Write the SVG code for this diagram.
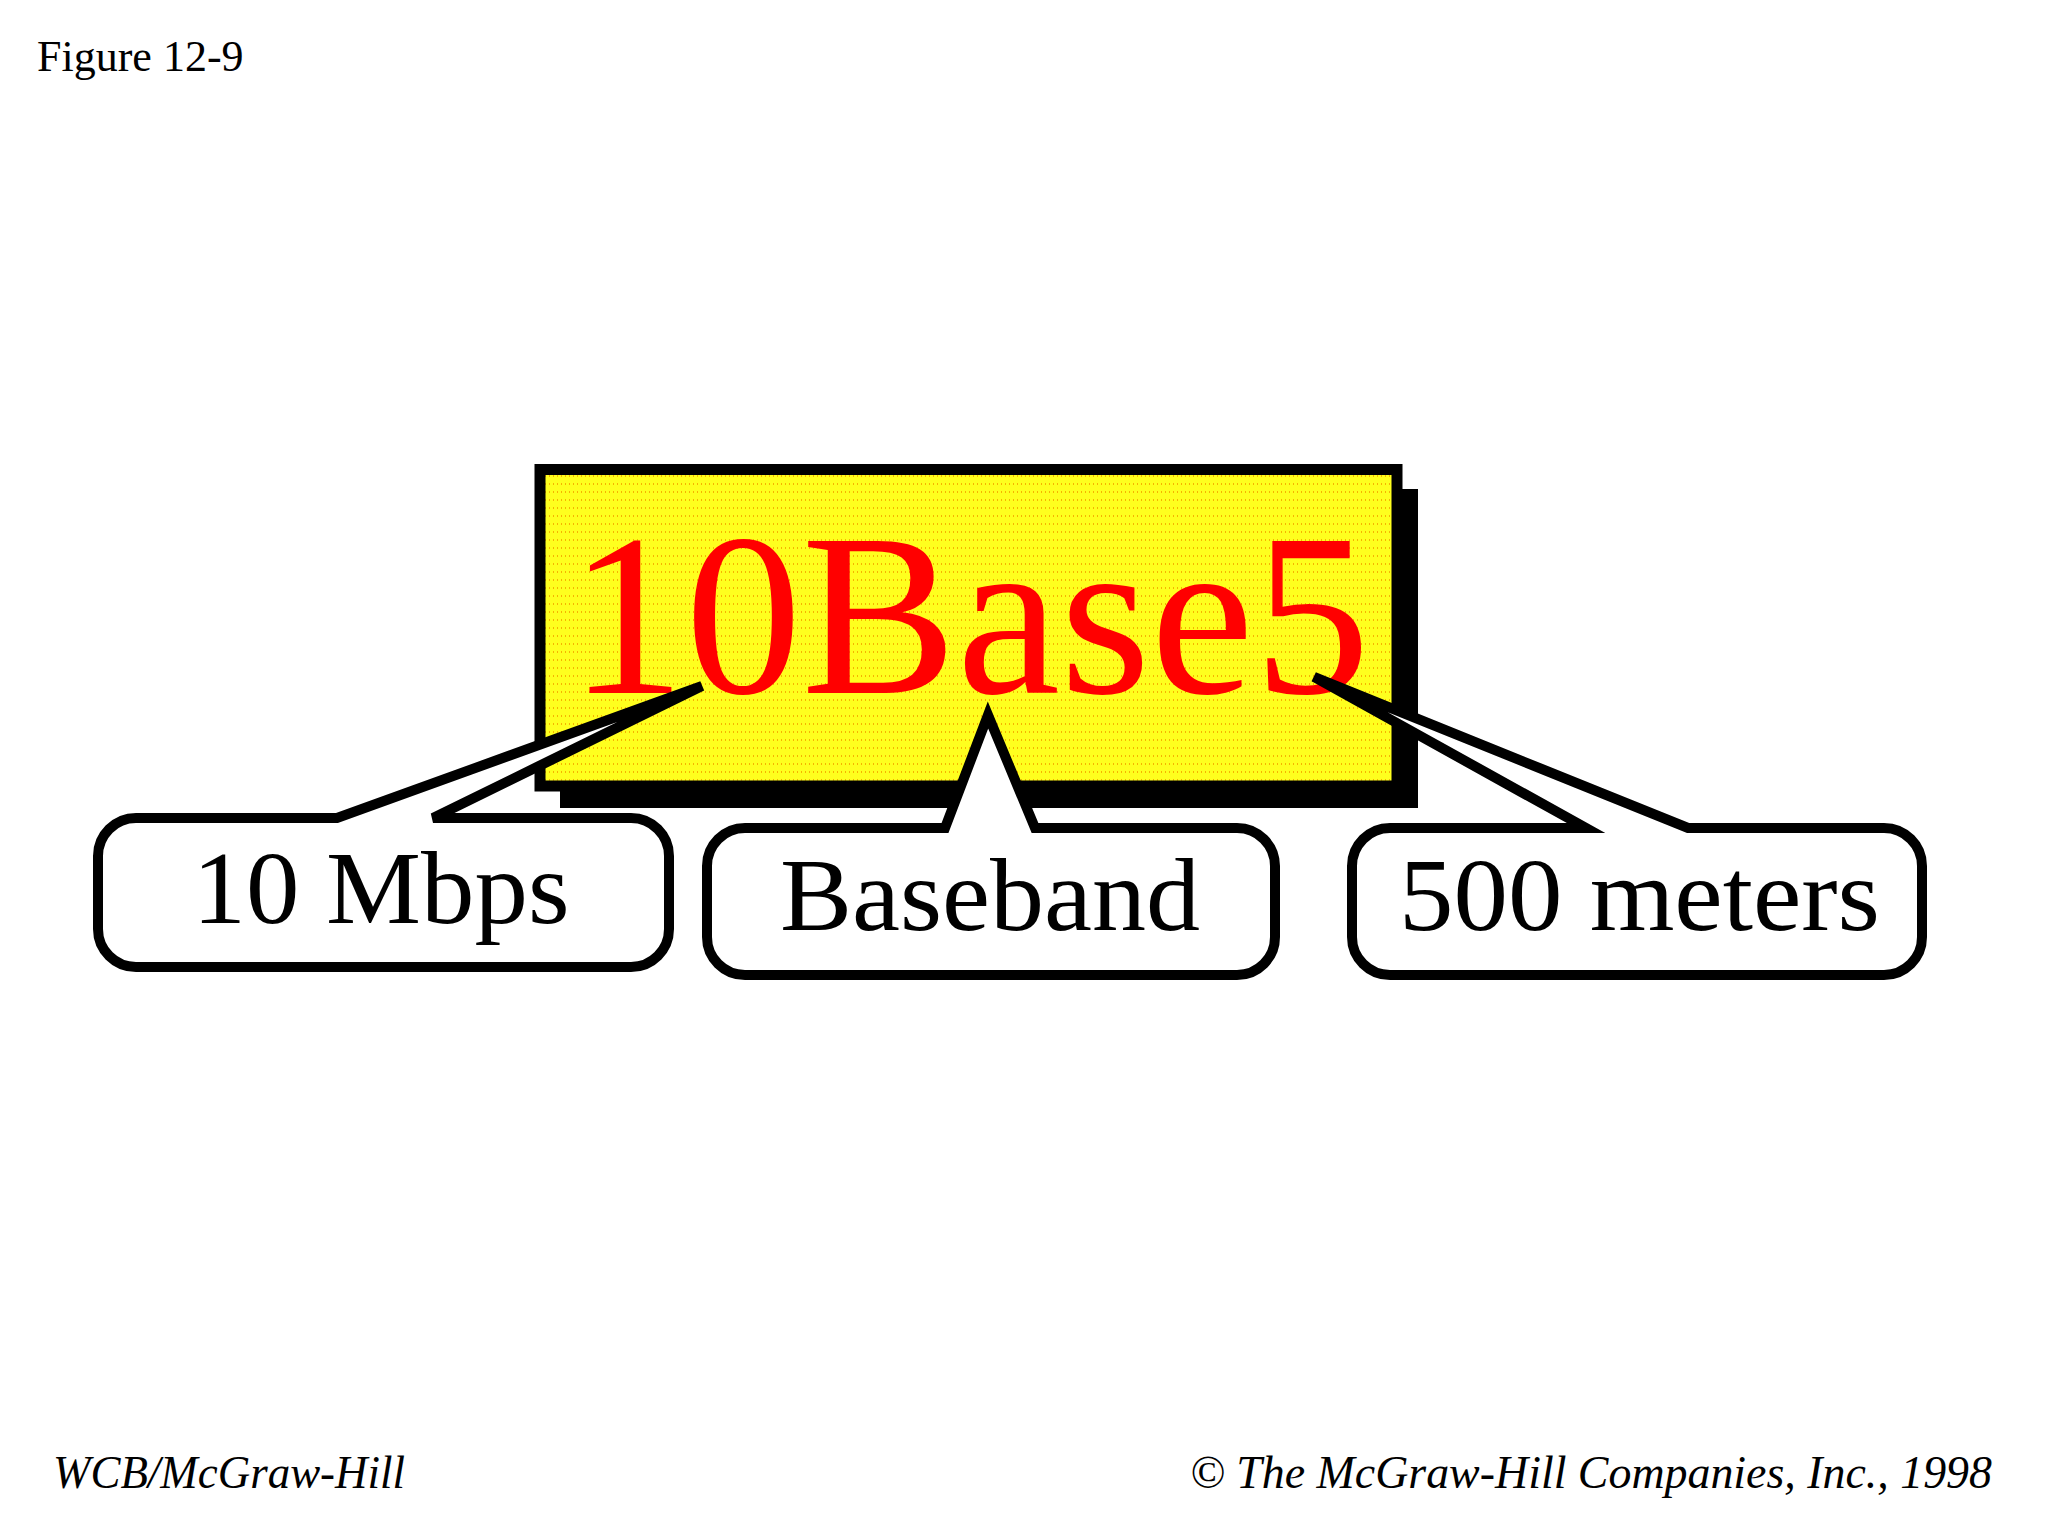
<svg xmlns="http://www.w3.org/2000/svg" width="2048" height="1536" viewBox="0 0 2048 1536">
<defs>
  <pattern id="dots" width="4" height="8" patternUnits="userSpaceOnUse">
    <rect width="4" height="8" fill="#FFFF1E"/>
    <rect x="1" y="3" width="1" height="2" fill="#F5B400"/>
  </pattern>
</defs>
<style>
  .serif{font-family:"Liberation Serif","Times New Roman",serif;}
  .title{font-size:44px;fill:#000;}
  .big{font-size:232px;fill:#FF0000;}
  .label{font-size:104px;fill:#000;}
  .foot{font-size:47px;font-style:italic;fill:#000;}
  .callout{fill:#fff;stroke:#000;stroke-width:10;}
  .ptr-fill{fill:#fff;stroke:none;}
  .ptr-line{fill:none;stroke:#000;stroke-width:10;stroke-linejoin:miter;stroke-miterlimit:4;}
</style>
<rect width="2048" height="1536" fill="#fff"/>
<text class="serif title" x="37" y="71">Figure 12-9</text>

<g id="node-10base5">
  <rect x="560" y="489" width="858" height="319" fill="#000"/>
  <rect x="540" y="469.5" width="857" height="316.5" fill="url(#dots)" stroke="#000" stroke-width="11"/>
  <text class="serif big" x="569" y="693" textLength="801" lengthAdjust="spacingAndGlyphs">10Base5</text>
</g>

<g id="node-10mbps">
  <rect class="callout" x="98" y="818" width="571" height="149" rx="38"/>
  <text class="serif label" x="192.5" y="923" textLength="377" lengthAdjust="spacingAndGlyphs">10 Mbps</text>
</g>

<g id="node-baseband">
  <rect class="callout" x="707" y="828" width="568" height="147" rx="38"/>
  <text class="serif label" x="780" y="930" textLength="420" lengthAdjust="spacingAndGlyphs">Baseband</text>
</g>

<g id="node-500meters">
  <rect class="callout" x="1352" y="828" width="570" height="147" rx="38"/>
  <text class="serif label" x="1399" y="930" textLength="481" lengthAdjust="spacingAndGlyphs">500 meters</text>
</g>

<g id="connectors">
  <g id="ptr-10mbps">
    <polygon class="ptr-fill" points="337,818 702,686 433,818 433,824 337,824"/>
    <path class="ptr-line" d="M 318,818 L 337,818 L 702,686 L 433,818 L 452,818"/>
  </g>
  <g id="ptr-baseband">
    <polygon class="ptr-fill" points="945,828 988,715 1035,828 1035,834 945,834"/>
    <path class="ptr-line" d="M 925,828 L 945,828 L 988,715 L 1035,828 L 1055,828"/>
  </g>
  <g id="ptr-500meters">
    <polygon class="ptr-fill" points="1586,828 1314,677 1688,828 1688,834 1586,834"/>
    <path class="ptr-line" d="M 1566,828 L 1586,828 L 1314,677 L 1688,828 L 1708,828"/>
  </g>
</g>

<text class="serif foot" x="53" y="1488" textLength="352" lengthAdjust="spacingAndGlyphs">WCB/McGraw-Hill</text>
<text class="serif foot" x="1190" y="1488" textLength="802" lengthAdjust="spacingAndGlyphs">© The McGraw-Hill Companies, Inc., 1998</text>
</svg>
